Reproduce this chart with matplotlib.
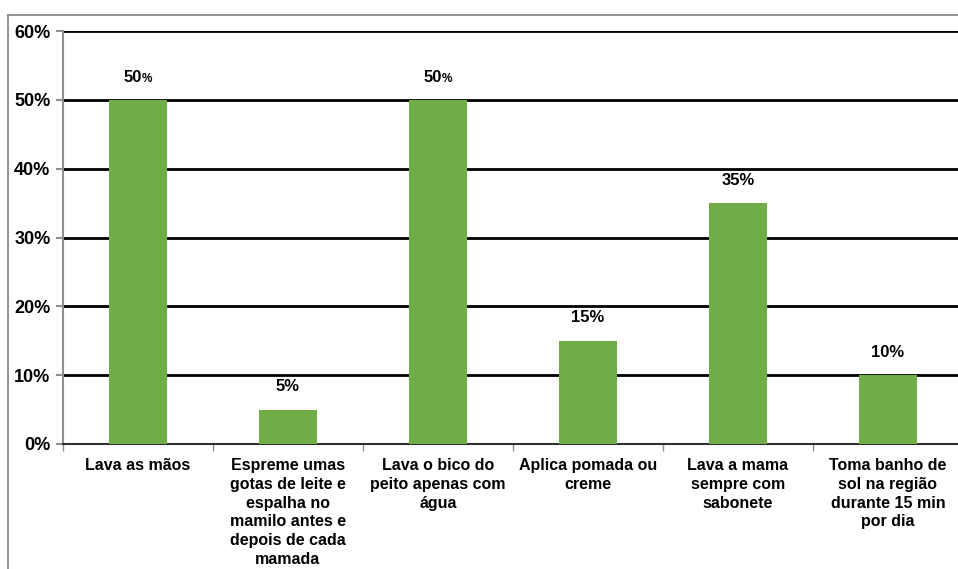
import numpy as np
import matplotlib.pyplot as plt
from matplotlib.lines import Line2D

categorias = [
    "Lava as mãos",
    "Espreme umas\ngotas de leite e\nespalha no\nmamilo antes e\ndepois de cada\nmamada",
    "Lava o bico do\npeito apenas com\nágua",
    "Aplica pomada ou\ncreme",
    "Lava a mama\nsempre com\nsabonete",
    "Toma banho de\nsol na região\ndurante 15 min\npor dia",
]
valores = [50, 5, 50, 15, 35, 10]
# rótulos onde o "%" aparece menor
pct_pequeno = [True, False, True, False, False, False]
yticks = [0, 10, 20, 30, 40, 50, 60]

plt.rcParams['font.family'] = ['Liberation Sans', 'DejaVu Sans']
plt.rcParams['font.weight'] = 'bold'

fig = plt.figure(figsize=(9.58, 5.69), dpi=100)
ax = fig.add_axes([63 / 958, 1 - 444 / 569, 900 / 958, 413 / 569])

x = np.arange(len(categorias))
ax.bar(x, valores, width=0.39, color='#70AD47', zorder=3)

ax.set_xlim(-0.5, len(categorias) - 0.5)
ax.set_ylim(0, 60)
ax.set_yticks(yticks)
ax.set_yticklabels([f"{v}%" for v in yticks], fontsize=13, fontweight='bold')
for v in yticks[1:]:
    ax.axhline(v, color='black', lw=2, zorder=2)

ax.set_xticks(np.arange(len(categorias) + 1) - 0.5, minor=True)
ax.set_xticks(x)
ax.set_xticklabels(categorias, fontsize=11.5, fontweight='bold', va='top',
                   ha='center', linespacing=1.32)
ax.tick_params(axis='x', which='major', length=0, pad=10)
ax.tick_params(axis='x', which='minor', length=5, color='#909090', width=1)
ax.tick_params(axis='y', length=5, color='#909090', width=1.5, pad=4)

for s in ['top', 'right']:
    ax.spines[s].set_visible(False)
ax.spines['left'].set_color('#909090')
ax.spines['left'].set_linewidth(1.5)
ax.spines['bottom'].set_color('#303030')
ax.spines['bottom'].set_linewidth(1.5)

for xi, v, small in zip(x, valores, pct_pequeno):
    if small:
        ax.annotate(f"{v}", (xi, v), textcoords='offset points', xytext=(3, 11),
                    ha='right', va='bottom', fontsize=12, fontweight='bold')
        ax.annotate("%", (xi, v), textcoords='offset points', xytext=(3, 11),
                    ha='left', va='bottom', fontsize=8.5, fontweight='bold')
    else:
        ax.annotate(f"{v}%", (xi, v), textcoords='offset points', xytext=(0, 11),
                    ha='center', va='bottom', fontsize=12, fontweight='bold')

# moldura externa do gráfico (cortada na imagem)
fig.add_artist(Line2D([8 / 958, 8 / 958], [0, 1 - 15 / 569], color='#808080', lw=1.2))
fig.add_artist(Line2D([8 / 958, 1], [1 - 15 / 569, 1 - 15 / 569], color='#808080', lw=1.2))

fig.savefig('out.png', dpi=100)
